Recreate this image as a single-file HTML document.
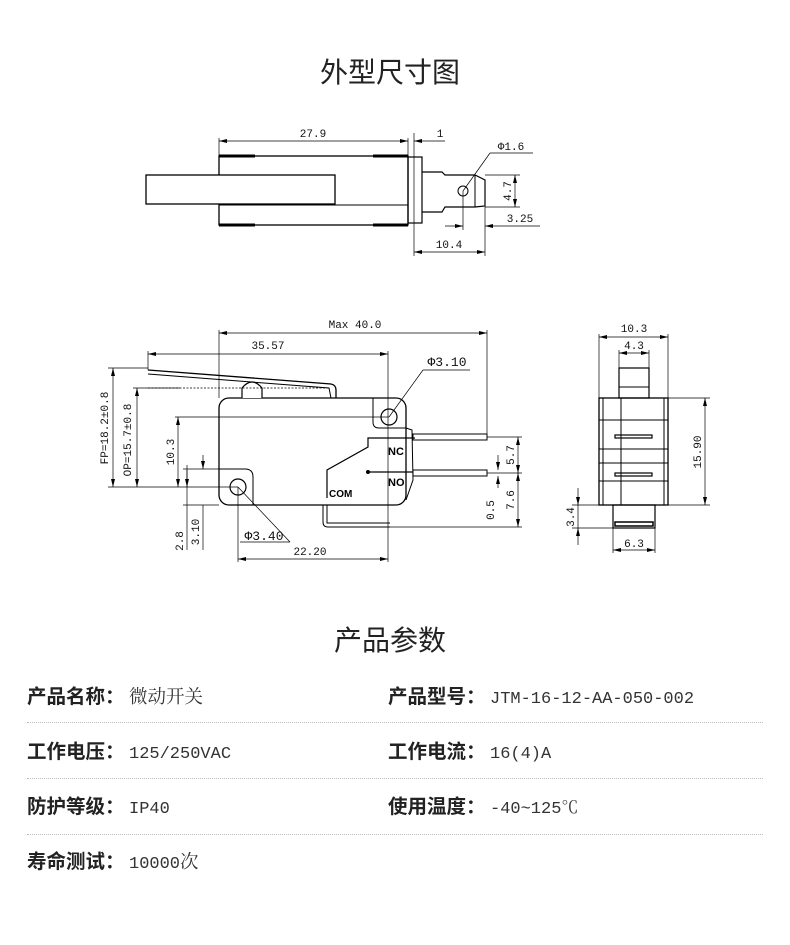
<!DOCTYPE html>
<html><head><meta charset="utf-8"><style>
html,body{margin:0;padding:0;background:#fff;}
body{width:790px;height:945px;overflow:hidden;position:relative;}
svg{position:absolute;left:0;top:0;}
.t{font-family:"Liberation Mono","Noto Serif CJK SC",monospace;font-size:11px;fill:#111;}
.h{font-family:"Liberation Sans","Noto Sans CJK SC",sans-serif;font-size:28px;fill:#222;font-weight:400;}
.lb{position:absolute;font-family:"Liberation Sans","Noto Sans CJK SC",sans-serif;font-weight:bold;font-size:19.5px;color:#222;line-height:24px;white-space:nowrap;}
.lb .k{display:inline-block;width:102px;}
.v{font-family:"Liberation Mono","Noto Serif CJK SC",monospace;font-weight:normal;font-size:17px;color:#333;}
.v .c{font-size:18.5px;}
.dl{position:absolute;left:27px;width:736px;border-top:1px dotted #bbb;}
</style></head><body>
<svg width="790" height="945" viewBox="0 0 790 945">
<defs>
<marker id="a" markerWidth="8" markerHeight="6" refX="8" refY="3" orient="auto-start-reverse" markerUnits="userSpaceOnUse"><path d="M0,1 L8,3 L0,5 Z" fill="#000"/></marker>
</defs>
<text class="h" x="390" y="82" text-anchor="middle">外型尺寸图</text>
<text class="h" x="390" y="650" text-anchor="middle">产品参数</text>

<g stroke="#000" fill="none" stroke-width="1">
<rect x="219" y="156" width="189" height="69" stroke-width="1.3"/>
<line x1="219" y1="156" x2="255" y2="156" stroke-width="3"/>
<line x1="373" y1="156" x2="408" y2="156" stroke-width="3"/>
<line x1="219" y1="225" x2="255" y2="225" stroke-width="3"/>
<line x1="373" y1="225" x2="408" y2="225" stroke-width="3"/>
<line x1="219" y1="205" x2="408" y2="205"/>
<rect x="146" y="175" width="189" height="29" fill="#fff" stroke-width="1.3"/>
<rect x="408" y="157" width="14" height="66" stroke-width="1.2"/>
<path d="M422,172 L442,172 L445,175 L475,175 L485,180 L485,206 L475,207 L445,207 L442,212 L422,212" stroke-width="1.2"/>
<line x1="475" y1="175" x2="475" y2="207"/>
<circle cx="463" cy="191" r="5"/>
<line x1="414" y1="133" x2="414" y2="256" stroke-width="0.7"/>
<line x1="219" y1="138" x2="219" y2="156" stroke-width="0.7"/>
<line x1="408" y1="138" x2="408" y2="156" stroke-width="0.7"/>
<line x1="219" y1="141" x2="408" y2="141" marker-start="url(#a)" marker-end="url(#a)" stroke-width="0.7"/>
<line x1="414" y1="141" x2="445" y2="141" marker-start="url(#a)" stroke-width="0.7"/>
<line x1="463" y1="191" x2="490" y2="153" stroke-width="0.7"/>
<line x1="490" y1="153" x2="533" y2="153" stroke-width="0.7"/>
<line x1="485" y1="175" x2="520" y2="175" stroke-width="0.7"/>
<line x1="485" y1="207" x2="520" y2="207" stroke-width="0.7"/>
<line x1="515" y1="175" x2="515" y2="207" marker-start="url(#a)" marker-end="url(#a)" stroke-width="0.7"/>
<line x1="463" y1="191" x2="463" y2="230" stroke-width="0.7"/>
<line x1="485" y1="207" x2="485" y2="256" stroke-width="0.7"/>
<line x1="445" y1="226" x2="463" y2="226" marker-end="url(#a)" stroke-width="0.7"/>
<line x1="485" y1="226" x2="540" y2="226" marker-start="url(#a)" stroke-width="0.7"/>
<line x1="414" y1="252" x2="485" y2="252" marker-start="url(#a)" marker-end="url(#a)" stroke-width="0.7"/>

<rect x="219" y="398" width="187" height="107" rx="10" stroke-width="1.3"/>
<path d="M406,428 L412,430 L413,480 L406,500" stroke-width="1"/>
<path d="M373,398 L373,422 Q373,428 379,428 L406,428" stroke-width="1"/>
<circle cx="389" cy="417" r="8" stroke-width="1.2"/>
<path d="M219,469 L245,469 Q253,469 253,477 L253,505" stroke-width="1"/>
<circle cx="238" cy="487" r="8" stroke-width="1.2"/>
<path d="M242,398 L242,388 Q252,376 262,388 L262,398" fill="#fff" stroke-width="1.2"/>
<path d="M148,370 L331,384 Q336,385 336,390 L336,398" stroke-width="1.3"/>
<path d="M148,374 L329,388 L331,398" stroke-width="1"/>
<line x1="148" y1="388" x2="330" y2="388" stroke-width="0.7" stroke-dasharray="2,1.5"/>
<rect x="413" y="434" width="74" height="6" stroke-width="1"/>
<rect x="413" y="470" width="74" height="6" stroke-width="1"/>
<path d="M323,505 L323,522 Q323,527 328,527 L390,527 M327,505 L327,523 L390,523" stroke-width="1"/>
<path d="M415,438 L368,438 L368,447 L327,470 L327,498" stroke-width="1.2"/>
<line x1="368" y1="472" x2="413" y2="472" stroke-width="1.2"/>
<circle cx="368" cy="472" r="1.5" fill="#000"/>
<line x1="219" y1="330" x2="219" y2="398" stroke-width="0.7"/>
<line x1="487" y1="330" x2="487" y2="437" stroke-width="0.7"/>
<line x1="219" y1="333" x2="487" y2="333" marker-start="url(#a)" marker-end="url(#a)" stroke-width="0.7"/>
<line x1="148" y1="351" x2="148" y2="370" stroke-width="0.7"/>
<line x1="388" y1="351" x2="388" y2="562" stroke-width="0.7"/>
<line x1="148" y1="354" x2="388" y2="354" marker-start="url(#a)" marker-end="url(#a)" stroke-width="0.7"/>
<line x1="389" y1="417" x2="423" y2="370" stroke-width="0.7"/>
<line x1="423" y1="370" x2="470" y2="370" stroke-width="0.7"/>
<line x1="108" y1="368" x2="148" y2="368" stroke-width="0.7"/>
<line x1="108" y1="487" x2="238" y2="487" stroke-width="0.7"/>
<line x1="113" y1="368" x2="113" y2="487" marker-start="url(#a)" marker-end="url(#a)" stroke-width="0.7"/>
<line x1="133" y1="388" x2="180" y2="388" stroke-width="0.7"/>
<line x1="137" y1="388" x2="137" y2="487" marker-start="url(#a)" marker-end="url(#a)" stroke-width="0.7"/>
<line x1="175" y1="417" x2="389" y2="417" stroke-width="0.7"/>
<line x1="178" y1="417" x2="178" y2="487" marker-start="url(#a)" marker-end="url(#a)" stroke-width="0.7"/>
<line x1="183" y1="469" x2="219" y2="469" stroke-width="0.7"/>
<line x1="183" y1="505" x2="219" y2="505" stroke-width="0.7"/>
<line x1="187" y1="470" x2="187" y2="550" stroke-width="0.7"/>
<line x1="187" y1="465" x2="187" y2="487" marker-end="url(#a)" stroke-width="0.7"/>
<line x1="203" y1="455" x2="203" y2="469" marker-end="url(#a)" stroke-width="0.7"/>
<line x1="203" y1="505" x2="203" y2="550" stroke-width="0.7"/>
<line x1="238" y1="487" x2="238" y2="562" stroke-width="0.7"/>
<line x1="238" y1="559" x2="388" y2="559" marker-start="url(#a)" marker-end="url(#a)" stroke-width="0.7"/>
<line x1="238" y1="487" x2="290" y2="542" stroke-width="0.7"/>
<line x1="240" y1="542" x2="290" y2="542" stroke-width="0.7"/>
<line x1="487" y1="437" x2="522" y2="437" stroke-width="0.7"/>
<line x1="487" y1="473" x2="522" y2="473" stroke-width="0.7"/>
<line x1="390" y1="527" x2="522" y2="527" stroke-width="0.7"/>
<line x1="518" y1="437" x2="518" y2="473" marker-start="url(#a)" marker-end="url(#a)" stroke-width="0.7"/>
<line x1="518" y1="473" x2="518" y2="527" marker-start="url(#a)" marker-end="url(#a)" stroke-width="0.7"/>
<line x1="498" y1="455" x2="498" y2="470" marker-end="url(#a)" stroke-width="0.7"/>
<line x1="498" y1="476" x2="498" y2="488" marker-start="url(#a)" stroke-width="0.7"/>

<rect x="619" y="368" width="30" height="30" stroke-width="1.2"/>
<line x1="619" y1="387" x2="649" y2="387"/>
<rect x="599" y="398" width="69" height="107" stroke-width="1.3"/>
<line x1="603" y1="398" x2="603" y2="505"/>
<line x1="664" y1="398" x2="664" y2="505"/>
<line x1="621" y1="398" x2="621" y2="505"/>
<line x1="599" y1="420" x2="668" y2="420"/>
<line x1="599" y1="449" x2="668" y2="449"/>
<line x1="599" y1="463" x2="668" y2="463"/>
<line x1="599" y1="481" x2="668" y2="481"/>
<rect x="615" y="435" width="37" height="3" stroke-width="1.2"/>
<rect x="615" y="473" width="37" height="3" stroke-width="1.2"/>
<rect x="613" y="505" width="42" height="23" stroke-width="1.2"/>
<rect x="615" y="522" width="38" height="4" stroke-width="1.5"/>
<line x1="599" y1="334" x2="599" y2="398" stroke-width="0.7"/>
<line x1="668" y1="334" x2="668" y2="398" stroke-width="0.7"/>
<line x1="599" y1="337" x2="668" y2="337" marker-start="url(#a)" marker-end="url(#a)" stroke-width="0.7"/>
<line x1="619" y1="350" x2="619" y2="368" stroke-width="0.7"/>
<line x1="649" y1="350" x2="649" y2="368" stroke-width="0.7"/>
<line x1="619" y1="353" x2="649" y2="353" marker-start="url(#a)" marker-end="url(#a)" stroke-width="0.7"/>
<line x1="668" y1="398" x2="710" y2="398" stroke-width="0.7"/>
<line x1="668" y1="505" x2="710" y2="505" stroke-width="0.7"/>
<line x1="705" y1="398" x2="705" y2="505" marker-start="url(#a)" marker-end="url(#a)" stroke-width="0.7"/>
<line x1="572" y1="505" x2="613" y2="505" stroke-width="0.7"/>
<line x1="572" y1="528" x2="613" y2="528" stroke-width="0.7"/>
<line x1="578" y1="488" x2="578" y2="505" marker-end="url(#a)" stroke-width="0.7"/>
<line x1="578" y1="545" x2="578" y2="528" marker-end="url(#a)" stroke-width="0.7"/>
<line x1="578" y1="505" x2="578" y2="528" stroke-width="0.7"/>
<line x1="613" y1="528" x2="613" y2="553" stroke-width="0.7"/>
<line x1="655" y1="528" x2="655" y2="553" stroke-width="0.7"/>
<line x1="613" y1="550" x2="655" y2="550" marker-start="url(#a)" marker-end="url(#a)" stroke-width="0.7"/>
</g>

<g class="t">
<text x="313" y="137" text-anchor="middle">27.9</text>
<text x="440" y="137" text-anchor="middle">1</text>
<text x="511" y="150" text-anchor="middle">Φ1.6</text>
<text x="0" y="0" transform="translate(511,191) rotate(-90)" text-anchor="middle">4.7</text>
<text x="520" y="222" text-anchor="middle">3.25</text>
<text x="449" y="248" text-anchor="middle">10.4</text>
<text x="355" y="328" text-anchor="middle">Max 40.0</text>
<text x="268" y="349" text-anchor="middle">35.57</text>
<text x="447" y="366" text-anchor="middle" font-size="13">Φ3.10</text>
<text transform="translate(108,428) rotate(-90)" text-anchor="middle">FP=18.2±0.8</text>
<text transform="translate(131,440) rotate(-90)" text-anchor="middle">OP=15.7±0.8</text>
<text transform="translate(174,452) rotate(-90)" text-anchor="middle">10.3</text>
<text transform="translate(183,541) rotate(-90)" text-anchor="middle">2.8</text>
<text transform="translate(199,532) rotate(-90)" text-anchor="middle">3.10</text>
<text x="264" y="540" text-anchor="middle" font-size="13">Φ3.40</text>
<text x="310" y="555" text-anchor="middle">22.20</text>
<text transform="translate(514,455) rotate(-90)" text-anchor="middle">5.7</text>
<text transform="translate(514,500) rotate(-90)" text-anchor="middle">7.6</text>
<text transform="translate(494,510) rotate(-90)" text-anchor="middle">0.5</text>
<text x="634" y="332" text-anchor="middle">10.3</text>
<text x="634" y="349" text-anchor="middle">4.3</text>
<text transform="translate(701,452) rotate(-90)" text-anchor="middle">15.90</text>
<text transform="translate(574,517) rotate(-90)" text-anchor="middle">3.4</text>
<text x="634" y="547" text-anchor="middle">6.3</text>
</g>
<g font-family="Liberation Sans, sans-serif" font-weight="bold" font-size="11" fill="#000">
<text x="388" y="455">NC</text>
<text x="388" y="486">NO</text>
<text x="329" y="497" font-size="10">COM</text>
</g>
</svg>

<div class="lb" style="left:27px;top:685px;"><span class="k">产品名称：</span><span class="v"><span class="c">微动开关</span></span></div>
<div class="lb" style="left:388px;top:685px;"><span class="k">产品型号：</span><span class="v">JTM-16-12-AA-050-002</span></div>
<div class="dl" style="top:722px;"></div>
<div class="lb" style="left:27px;top:740px;"><span class="k">工作电压：</span><span class="v">125/250VAC</span></div>
<div class="lb" style="left:388px;top:740px;"><span class="k">工作电流：</span><span class="v">16(4)A</span></div>
<div class="dl" style="top:778px;"></div>
<div class="lb" style="left:27px;top:795px;"><span class="k">防护等级：</span><span class="v">IP40</span></div>
<div class="lb" style="left:388px;top:795px;"><span class="k">使用温度：</span><span class="v">-40~125℃</span></div>
<div class="dl" style="top:834px;"></div>
<div class="lb" style="left:27px;top:850px;"><span class="k">寿命测试：</span><span class="v">10000<span class="c">次</span></span></div>
</body></html>
